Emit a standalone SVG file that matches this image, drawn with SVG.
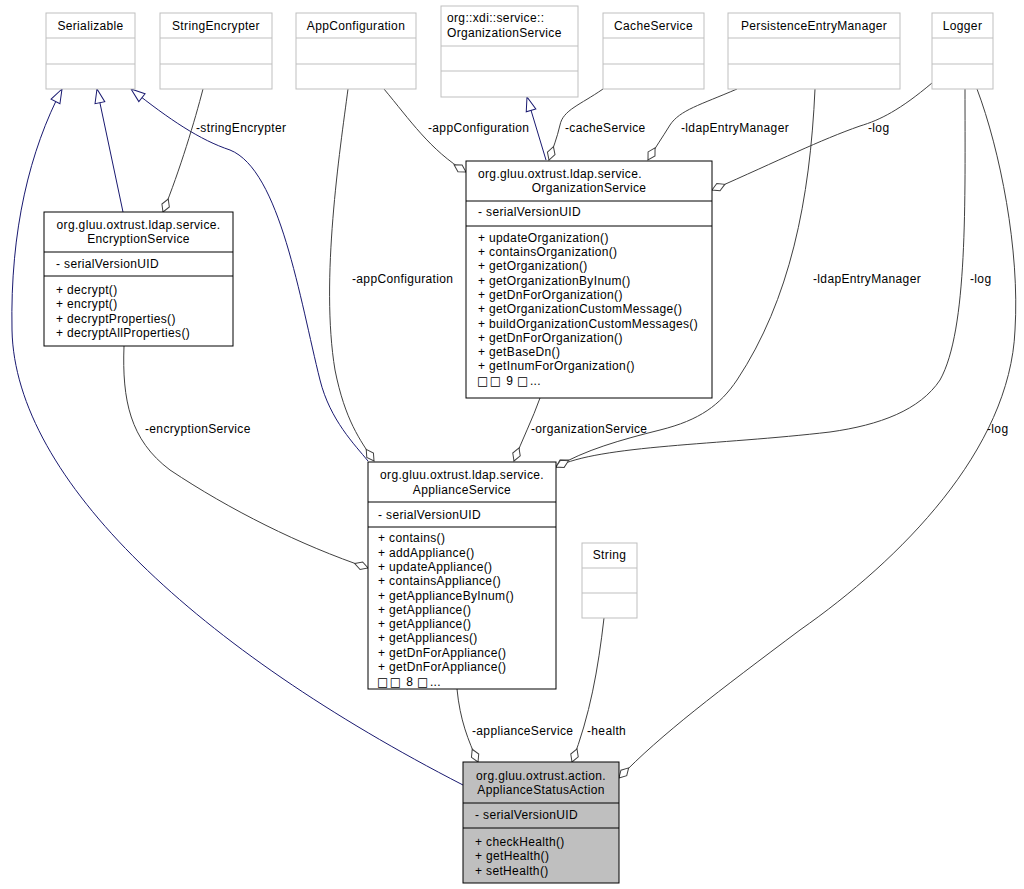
<svg xmlns="http://www.w3.org/2000/svg" width="1024" height="889" viewBox="0 0 1024 889">
<style>
text{font-family:"Liberation Sans",Arial,sans-serif;font-size:12px;letter-spacing:0.35px;fill:#000}
.c{text-anchor:middle}
.tofu{font-family:"DejaVu Sans",sans-serif;font-size:12px;letter-spacing:1.5px}
.ext{fill:#fff;stroke:#bfbfbf;stroke-width:1}
.int{fill:#fff;stroke:#000;stroke-width:1}
.cur{fill:#bfbfbf;stroke:#000;stroke-width:1}
.dx{stroke:#bfbfbf;stroke-width:1}
.di{stroke:#000;stroke-width:1}
.agg{fill:none;stroke:#404040;stroke-width:1;marker-end:url(#dia)}
.inh{fill:none;stroke:#191970;stroke-width:1;marker-end:url(#tri)}
</style>
<defs>
<marker id="dia" markerUnits="userSpaceOnUse" markerWidth="18" markerHeight="12" viewBox="-2 -6 18 12" refX="14" refY="0" orient="auto">
<path d="M0,0 L7,-4 L14,0 L7,4 Z" fill="#fff" stroke="#404040" stroke-width="1"/>
</marker>
<marker id="tri" markerUnits="userSpaceOnUse" markerWidth="18" markerHeight="14" viewBox="-2 -7 18 14" refX="14" refY="0" orient="auto">
<path d="M0,-5 L14,0 L0,5 Z" fill="#fff" stroke="#191970" stroke-width="1"/>
</marker>
</defs>
<rect width="1024" height="889" fill="#fff"/>

<g id="connectors">
<path class="inh" d="M463,785 C200,650 15,480 12,330 C10,230 30,150 62,89"/>
<path class="inh" d="M123,212 L97,89"/>
<path class="inh" d="M368,461 C355,445 330,420 320,380 C300,300 280,170 230,150 C200,140 170,120 131,89"/>
<path class="inh" d="M546,160 L527,97"/>
<path class="agg" d="M203,89 C195,120 180,170 163,212"/>
<path class="agg" d="M348,89 C340,150 320,280 335,370 C345,420 360,440 374,461"/>
<path class="agg" d="M384,89 C410,120 430,150 466,172"/>
<path class="agg" d="M603,89 C580,105 563,110 560,125 C557,138 553,148 549,160"/>
<path class="agg" d="M737,89 C700,105 680,110 670,125 C662,138 655,148 648,160"/>
<path class="agg" d="M932,83 C900,110 880,120 860,126 C820,140 780,160 712,190"/>
<path class="agg" d="M815,89 C810,200 790,300 737,380 C720,405 700,420 660,430 C620,440 585,450 556,467"/>
<path class="agg" d="M965,89 C965,200 968,330 940,380 C920,410 880,425 830,432 C720,445 600,445 556,467"/>
<path class="agg" d="M977,89 C1000,150 1020,250 1015,330 C1010,450 900,560 800,630 C720,690 660,735 619,778"/>
<path class="agg" d="M604,618 C598,670 590,715 572,762"/>
<path class="agg" d="M457,689 C460,720 468,740 478,762"/>
<path class="agg" d="M124,346 C122,400 130,440 170,470 C230,510 300,545 368,568"/>
<path class="agg" d="M540,398 C533,418 522,440 514,461"/>
<text x="196" y="131.5">-stringEncrypter</text>
<text x="428" y="131.5">-appConfiguration</text>
<text x="565" y="131.5">-cacheService</text>
<text x="681" y="131.5">-ldapEntryManager</text>
<text x="868" y="131.5">-log</text>
<text x="352" y="283">-appConfiguration</text>
<text x="813" y="283">-ldapEntryManager</text>
<text x="970" y="283">-log</text>
<text x="145" y="433">-encryptionService</text>
<text x="531" y="433">-organizationService</text>
<text x="987" y="433">-log</text>
<text x="472" y="735">-applianceService</text>
<text x="587" y="735">-health</text>
</g>

<g id="Serializable">
<rect class="ext" x="46" y="13" width="89" height="76"/>
<line class="dx" x1="46" y1="38" x2="135" y2="38"/><line class="dx" x1="46" y1="64" x2="135" y2="64"/>
<text class="c" x="90.5" y="30">Serializable</text>
</g>
<g id="StringEncrypter">
<rect class="ext" x="160" y="13" width="112" height="76"/>
<line class="dx" x1="160" y1="38" x2="272" y2="38"/><line class="dx" x1="160" y1="64" x2="272" y2="64"/>
<text class="c" x="216" y="30">StringEncrypter</text>
</g>
<g id="AppConfiguration">
<rect class="ext" x="296" y="13" width="120" height="76"/>
<line class="dx" x1="296" y1="38" x2="416" y2="38"/><line class="dx" x1="296" y1="64" x2="416" y2="64"/>
<text class="c" x="356" y="30">AppConfiguration</text>
</g>
<g id="XdiOrganizationService">
<rect class="ext" x="441" y="6" width="137" height="91"/>
<line class="dx" x1="441" y1="46" x2="578" y2="46"/><line class="dx" x1="441" y1="71" x2="578" y2="71"/>
<text x="447" y="22">org::xdi::service::</text>
<text x="447" y="37">OrganizationService</text>
</g>
<g id="CacheService">
<rect class="ext" x="603" y="13" width="101" height="76"/>
<line class="dx" x1="603" y1="38" x2="704" y2="38"/><line class="dx" x1="603" y1="64" x2="704" y2="64"/>
<text class="c" x="653.5" y="30">CacheService</text>
</g>
<g id="PersistenceEntryManager">
<rect class="ext" x="728" y="13" width="172" height="76"/>
<line class="dx" x1="728" y1="38" x2="900" y2="38"/><line class="dx" x1="728" y1="64" x2="900" y2="64"/>
<text class="c" x="814" y="30">PersistenceEntryManager</text>
</g>
<g id="Logger">
<rect class="ext" x="932" y="13" width="61" height="76"/>
<line class="dx" x1="932" y1="38" x2="993" y2="38"/><line class="dx" x1="932" y1="64" x2="993" y2="64"/>
<text class="c" x="962.5" y="30">Logger</text>
</g>

<g id="OrganizationService">
<rect class="int" x="466" y="161" width="246" height="237"/>
<line class="di" x1="466" y1="201" x2="712" y2="201"/><line class="di" x1="466" y1="226" x2="712" y2="226"/>
<text x="478" y="178">org.gluu.oxtrust.ldap.service.</text>
<text class="c" x="589" y="192">OrganizationService</text>
<text x="478" y="216">- serialVersionUID</text>
<text x="478" y="241.7">+ updateOrganization()</text>
<text x="478" y="256">+ containsOrganization()</text>
<text x="478" y="270.3">+ getOrganization()</text>
<text x="478" y="284.6">+ getOrganizationByInum()</text>
<text x="478" y="298.9">+ getDnForOrganization()</text>
<text x="478" y="313.2">+ getOrganizationCustomMessage()</text>
<text x="478" y="327.5">+ buildOrganizationCustomMessages()</text>
<text x="478" y="341.8">+ getDnForOrganization()</text>
<text x="478" y="356.1">+ getBaseDn()</text>
<text x="478" y="370.4">+ getInumForOrganization()</text>
<text x="477" y="385"><tspan class="tofu">□□</tspan> 9 <tspan class="tofu">□</tspan>...</text>
</g>

<g id="EncryptionService">
<rect class="int" x="44" y="212" width="189" height="134"/>
<line class="di" x1="44" y1="252" x2="233" y2="252"/><line class="di" x1="44" y1="276" x2="233" y2="276"/>
<text class="c" x="138.5" y="229">org.gluu.oxtrust.ldap.service.</text>
<text class="c" x="138.5" y="243">EncryptionService</text>
<text x="56" y="267.5">- serialVersionUID</text>
<text x="56" y="293.5">+ decrypt()</text>
<text x="56" y="308">+ encrypt()</text>
<text x="56" y="322.5">+ decryptProperties()</text>
<text x="56" y="337">+ decryptAllProperties()</text>
</g>

<g id="ApplianceService">
<rect class="int" x="368" y="462" width="188" height="227"/>
<line class="di" x1="368" y1="502" x2="556" y2="502"/><line class="di" x1="368" y1="527" x2="556" y2="527"/>
<text class="c" x="462" y="479">org.gluu.oxtrust.ldap.service.</text>
<text class="c" x="462" y="493.5">ApplianceService</text>
<text x="378" y="519">- serialVersionUID</text>
<text x="378" y="542.3">+ contains()</text>
<text x="378" y="556.6">+ addAppliance()</text>
<text x="378" y="570.9">+ updateAppliance()</text>
<text x="378" y="585.2">+ containsAppliance()</text>
<text x="378" y="599.5">+ getApplianceByInum()</text>
<text x="378" y="613.8">+ getAppliance()</text>
<text x="378" y="628.1">+ getAppliance()</text>
<text x="378" y="642.4">+ getAppliances()</text>
<text x="378" y="656.7">+ getDnForAppliance()</text>
<text x="378" y="671">+ getDnForAppliance()</text>
<text x="377" y="685.5"><tspan class="tofu">□□</tspan> 8 <tspan class="tofu">□</tspan>...</text>
</g>

<g id="String">
<rect class="ext" x="582" y="543" width="55" height="75"/>
<line class="dx" x1="582" y1="568" x2="637" y2="568"/><line class="dx" x1="582" y1="593" x2="637" y2="593"/>
<text class="c" x="609.5" y="559">String</text>
</g>

<g id="ApplianceStatusAction">
<rect class="cur" x="463" y="762" width="156" height="121"/>
<line class="di" x1="463" y1="803" x2="619" y2="803"/><line class="di" x1="463" y1="828" x2="619" y2="828"/>
<text class="c" x="541" y="780">org.gluu.oxtrust.action.</text>
<text class="c" x="541" y="794.3">ApplianceStatusAction</text>
<text x="475" y="819">- serialVersionUID</text>
<text x="475" y="845.5">+ checkHealth()</text>
<text x="475" y="860">+ getHealth()</text>
<text x="475" y="874.5">+ setHealth()</text>
</g>
</svg>
